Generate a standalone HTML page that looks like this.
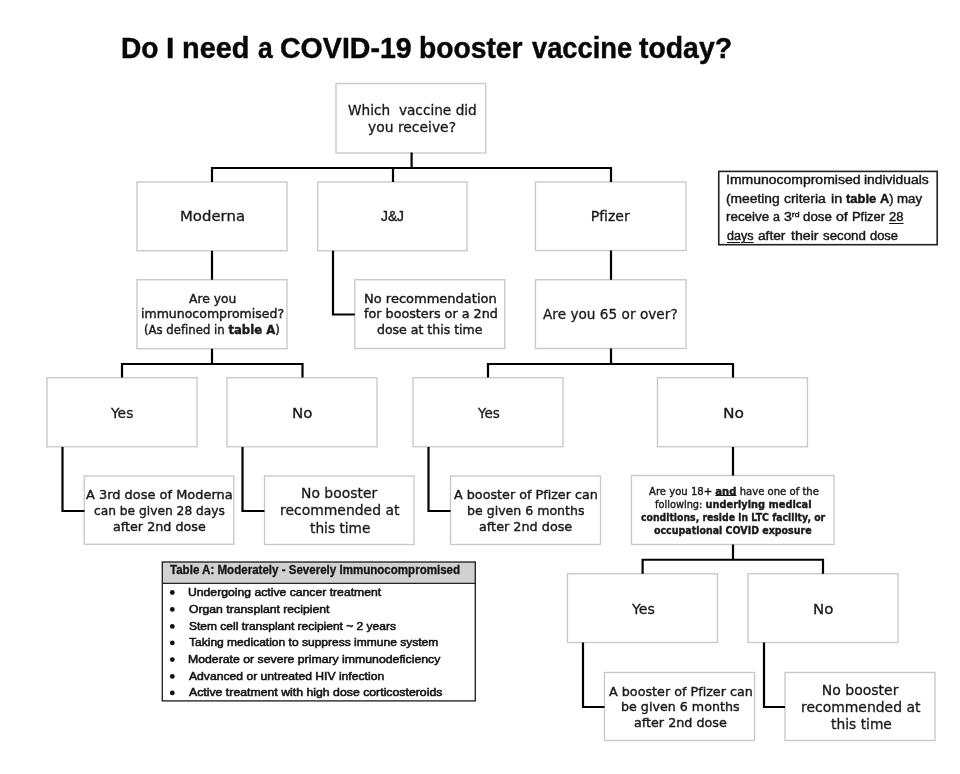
<!DOCTYPE html>
<html lang="en">
<head>
<meta charset="utf-8">
<title>Do I need a COVID-19 booster vaccine today?</title>
<style>
*{box-sizing:border-box}
html,body{margin:0;padding:0;background:#fff}
body{width:960px;height:774px;overflow:hidden;position:relative;will-change:transform}
.ln{position:absolute;white-space:pre;line-height:1.2;font-variant-ligatures:none;transform-origin:0 0;color:#1c1c1c;margin:0;padding:0;display:block}
.ln b{font-weight:700}
.ln u{text-decoration:underline;text-decoration-thickness:1px;text-underline-offset:1px}
.node .ln u{text-underline-offset:0}
.ln sup{font-size:.62em;vertical-align:baseline;position:relative;top:-.5em;line-height:0}
.fv{font-family:"DejaVu Sans","Liberation Sans",sans-serif;-webkit-text-stroke:.3px #1a1a1a;color:#1a1a1a}
.fc{font-family:"Liberation Sans","DejaVu Sans",sans-serif;-webkit-text-stroke:.4px #1c1c1c}
#chart{will-change:transform;position:absolute;left:0;top:0;width:960px;height:774px;background:#fff;overflow:hidden}
#shapes{position:absolute;left:0;top:0;width:960px;height:774px}
.node,.note,.tbl{position:absolute;margin:0;padding:0}
h1,h1 .ln{color:#080808;-webkit-text-stroke:.45px #080808;font-size:29px;font-weight:700}
.grp{margin:0;padding:0;font-size:0;line-height:0}
.grp .ln{line-height:1.2}
.tbl .ln{-webkit-text-stroke:.55px #141414;color:#141414}
.tbl div.ln{-webkit-text-stroke:.3px #141414}
.note .ln{-webkit-text-stroke:.4px #161616;color:#161616}
.note .ln u{text-underline-offset:1.8px}
ul,li{list-style:none;margin:0;padding:0}
</style>
</head>
<body>
<div id="chart">
<svg id="shapes" width="960" height="774" viewBox="0 0 960 774">
<g fill="#fff" stroke="#c8c8c8" stroke-width="1.35">
<rect x="336" y="83.5" width="149.75" height="69.5"/>
<rect x="137" y="182" width="150" height="68.75"/>
<rect x="317.75" y="182" width="149.25" height="68.75"/>
<rect x="535.5" y="182" width="150.5" height="68.5"/>
<rect x="137" y="279.75" width="150" height="69"/>
<rect x="354.75" y="279.75" width="150" height="68.75"/>
<rect x="535.5" y="279.75" width="150.5" height="68.75"/>
<rect x="47" y="377.75" width="150" height="69"/>
<rect x="227" y="377.75" width="150" height="69"/>
<rect x="413" y="377.75" width="150" height="69"/>
<rect x="657.5" y="377.75" width="150" height="69"/>
<rect x="84.25" y="476" width="149.5" height="68.25"/>
<rect x="264.5" y="476" width="149.5" height="68.5"/>
<rect x="450.5" y="476" width="150" height="68.5"/>
<rect x="631.5" y="475.5" width="202.5" height="69"/>
<rect x="567.5" y="573.75" width="150" height="68.75"/>
<rect x="748" y="573.75" width="150" height="68.75"/>
<rect x="604.5" y="672.5" width="150" height="68"/>
<rect x="785" y="672.5" width="150" height="68"/>
</g>
<g fill="none" stroke="#000" stroke-width="2.2" stroke-linejoin="miter" stroke-linecap="butt">
<polyline points="411.6,152.5 411.6,168"/>
<polyline points="212,182 212,168 611,168 611,182"/>
<polyline points="393,168 393,182"/>
<polyline points="212,250.75 212,279.75"/>
<polyline points="333,250.75 333,314.5 354.75,314.5"/>
<polyline points="611,250.5 611,279.75"/>
<polyline points="212,348.75 212,364"/>
<polyline points="122,377.5 122,364 302.5,364 302.5,377.5"/>
<polyline points="611,348.5 611,364"/>
<polyline points="488,377.5 488,364 733,364 733,377.5"/>
<polyline points="62.5,447 62.5,511 84.5,511"/>
<polyline points="242.5,447 242.5,511 264.5,511"/>
<polyline points="428.5,447 428.5,511 450.5,511"/>
<polyline points="733,447 733,475.5"/>
<polyline points="733,544.5 733,559.75"/>
<polyline points="642.6,573.75 642.6,559.75 823,559.75 823,573.75"/>
<polyline points="583,642.5 583,707 604.5,707"/>
<polyline points="764,642.5 764,707 785,707"/>
</g>
<rect x="718.75" y="171.4" width="218.45" height="73.3" fill="#fff" stroke="#222" stroke-width="1.6"/>
<rect x="162.3" y="562" width="313" height="21.4" fill="#d2d0d0"/>
<rect x="162.3" y="562" width="313" height="138.9" fill="none" stroke="#222" stroke-width="1.35"/>
<line x1="162.3" y1="583.4" x2="475.3" y2="583.4" stroke="#222" stroke-width="1.35"/>
<circle cx="172.3" cy="592.5" r="2.4" fill="#111"/>
<circle cx="172.3" cy="609.4" r="2.4" fill="#111"/>
<circle cx="172.3" cy="626.4" r="2.4" fill="#111"/>
<circle cx="172.3" cy="642.9" r="2.4" fill="#111"/>
<circle cx="172.3" cy="659.6" r="2.4" fill="#111"/>
<circle cx="172.3" cy="676.4" r="2.4" fill="#111"/>
<circle cx="172.3" cy="692.9" r="2.4" fill="#111"/>
</svg>
<h1 class="grp"><span class="ln fc" style="left:121.1px;top:31px;font-size:29px;font-weight:700;transform:scaleX(0.9694)">Do</span> <span class="ln fc" style="left:166.14px;top:31px;font-size:29px;font-weight:700;transform:scaleX(1.0286)">I</span> <span class="ln fc" style="left:182.26px;top:31px;font-size:29px;font-weight:700;transform:scaleX(0.9961)">need</span> <span class="ln fc" style="left:257.51px;top:31px;font-size:29px;font-weight:700;transform:scaleX(0.9122)">a</span> <span class="ln fc" style="left:280.02px;top:31px;font-size:29px;font-weight:700;transform:scaleX(0.9848)">COVID-19</span> <span class="ln fc" style="left:419.3px;top:31px;font-size:29px;font-weight:700;transform:scaleX(0.9736)">booster</span> <span class="ln fc" style="left:531.5px;top:31px;font-size:29px;font-weight:700;transform:scaleX(0.9409)">vaccine</span> <span class="ln fc" style="left:639.01px;top:31px;font-size:29px;font-weight:700;transform:scaleX(0.9786)">today?</span></h1>
<div class="node" style="left:336px;top:83.5px;width:149.75px;height:69.5px">
  <span class="ln fv" style="left:11.76px;top:18.5px;font-size:14px;transform:scaleX(0.9770)">Which  vaccine did</span>
  <span class="ln fv" style="left:31.75px;top:35.5px;font-size:14px;transform:scaleX(0.9915)">you receive?</span>
</div>
<div class="node" style="left:137px;top:182px;width:150px;height:68.75px">
  <span class="ln fv" style="left:42.67px;top:26px;font-size:14px;transform:scaleX(1.0638)">Moderna</span>
</div>
<div class="node" style="left:317.75px;top:182px;width:149.25px;height:68.75px">
  <span class="ln fc" style="left:63.65px;top:26px;font-size:14px;transform:scaleX(0.9867)">J&amp;J</span>
</div>
<div class="node" style="left:535.5px;top:182px;width:150.5px;height:68.5px">
  <span class="ln fv" style="left:55.25px;top:26px;font-size:14px;transform:scaleX(1.0000)">Pfizer</span>
</div>
<div class="node" style="left:137px;top:279.75px;width:150px;height:69px">
  <span class="ln fv" style="left:52.3px;top:12.25px;font-size:12px;-webkit-text-stroke-width:.4px;transform:scaleX(1.0254)">Are you</span>
  <span class="ln fv" style="left:3.66px;top:27.25px;font-size:12px;-webkit-text-stroke-width:.4px;transform:scaleX(1.0428)">immunocompromised?</span>
  <span class="ln fv" style="left:7.13px;top:43.25px;font-size:12px;-webkit-text-stroke-width:.4px;transform:scaleX(0.9735)">(As defined in <b>table A</b>)</span>
</div>
<div class="node" style="left:354.75px;top:279.75px;width:150px;height:68.75px">
  <span class="ln fv" style="left:8.97px;top:12.25px;font-size:12px;-webkit-text-stroke-width:.4px;transform:scaleX(1.0838)">No recommendation</span>
  <span class="ln fv" style="left:8.88px;top:27.25px;font-size:12px;-webkit-text-stroke-width:.4px;transform:scaleX(1.0613)">for boosters or a 2nd</span>
  <span class="ln fv" style="left:22.73px;top:43.25px;font-size:12px;-webkit-text-stroke-width:.4px;transform:scaleX(1.0424)">dose at this time</span>
</div>
<div class="node" style="left:535.5px;top:279.75px;width:150.5px;height:68.75px">
  <span class="ln fv" style="left:7.5px;top:26.25px;font-size:14.4px;transform:scaleX(0.9496)">Are you 65 or over?</span>
</div>
<div class="node" style="left:47px;top:377.75px;width:150px;height:69px">
  <span class="ln fv" style="left:64.25px;top:27.25px;font-size:14px;transform:scaleX(0.9888)">Yes</span>
</div>
<div class="node" style="left:227px;top:377.75px;width:150px;height:69px">
  <span class="ln fv" style="left:65.16px;top:27.25px;font-size:14px;transform:scaleX(1.0725)">No</span>
</div>
<div class="node" style="left:413px;top:377.75px;width:150px;height:69px">
  <span class="ln fv" style="left:65.24px;top:27.25px;font-size:14px;transform:scaleX(0.9663)">Yes</span>
</div>
<div class="node" style="left:657.5px;top:377.75px;width:150px;height:69px">
  <span class="ln fv" style="left:65.12px;top:27.25px;font-size:14px;transform:scaleX(1.1014)">No</span>
</div>
<div class="node" style="left:84.25px;top:476px;width:149.5px;height:68.25px">
  <span class="ln fv" style="left:1.75px;top:11px;font-size:12.7px;-webkit-text-stroke-width:.4px;transform:scaleX(1.0200)">A 3rd dose of Moderna</span>
  <span class="ln fv" style="left:9.67px;top:27px;font-size:12.7px;-webkit-text-stroke-width:.4px;transform:scaleX(0.9640)">can be given 28 days</span>
  <span class="ln fv" style="left:28.5px;top:43px;font-size:12.7px;-webkit-text-stroke-width:.4px;transform:scaleX(1.0027)">after 2nd dose</span>
</div>
<div class="node" style="left:264.5px;top:476px;width:149.5px;height:68.5px">
  <span class="ln fv" style="left:36.26px;top:9px;font-size:14px;transform:scaleX(0.9934)">No booster</span>
  <span class="ln fv" style="left:15.26px;top:26px;font-size:14px;transform:scaleX(0.9958)">recommended at</span>
  <span class="ln fv" style="left:45.26px;top:44px;font-size:14px;transform:scaleX(0.9794)">this time</span>
</div>
<div class="node" style="left:450.5px;top:476px;width:150px;height:68.5px">
  <span class="ln fv" style="left:3.5px;top:11px;font-size:12.7px;-webkit-text-stroke-width:.4px;transform:scaleX(1.0035)">A booster of Pfizer can</span>
  <span class="ln fv" style="left:16.51px;top:27px;font-size:12.7px;-webkit-text-stroke-width:.4px;transform:scaleX(0.9893)">be given 6 months</span>
  <span class="ln fv" style="left:28.74px;top:43px;font-size:12.7px;-webkit-text-stroke-width:.4px;transform:scaleX(1.0082)">after 2nd dose</span>
</div>
<div class="node" style="left:631.5px;top:475.5px;width:202.5px;height:69px">
  <span class="ln fv" style="left:17px;top:10.5px;font-size:10.67px;-webkit-text-stroke-width:.4px;transform:scaleX(0.9443)">Are you 18+ <b><u>and</u></b> have one of the</span>
  <span class="ln fv" style="left:23.5px;top:23.5px;font-size:10.67px;-webkit-text-stroke-width:.4px;transform:scaleX(0.9204)">following: <b>underlying medical</b></span>
  <span class="ln fv" style="left:9.28px;top:36.5px;font-size:10.67px;-webkit-text-stroke-width:.4px;transform:scaleX(0.8741)"><b>conditions, reside in LTC facility, or</b></span>
  <span class="ln fv" style="left:22.78px;top:49.5px;font-size:10.67px;-webkit-text-stroke-width:.4px;transform:scaleX(0.8883)"><b>occupational COVID exposure</b></span>
</div>
<div class="node" style="left:567.5px;top:573.75px;width:150px;height:68.75px">
  <span class="ln fv" style="left:64.75px;top:27.25px;font-size:14px;transform:scaleX(1.0112)">Yes</span>
</div>
<div class="node" style="left:748px;top:573.75px;width:150px;height:68.75px">
  <span class="ln fv" style="left:65.16px;top:27.25px;font-size:14px;transform:scaleX(1.0725)">No</span>
</div>
<div class="node" style="left:604.5px;top:672.5px;width:150px;height:68px">
  <span class="ln fv" style="left:4.5px;top:11.5px;font-size:12.7px;-webkit-text-stroke-width:.4px;transform:scaleX(1.0035)">A booster of Pfizer can</span>
  <span class="ln fv" style="left:16.5px;top:26.5px;font-size:12.7px;-webkit-text-stroke-width:.4px;transform:scaleX(0.9979)">be given 6 months</span>
  <span class="ln fv" style="left:29.25px;top:42.5px;font-size:12.7px;-webkit-text-stroke-width:.4px;transform:scaleX(1.0027)">after 2nd dose</span>
</div>
<div class="node" style="left:785px;top:672.5px;width:150px;height:68px">
  <span class="ln fv" style="left:36.75px;top:9.5px;font-size:14px;transform:scaleX(1.0000)">No booster</span>
  <span class="ln fv" style="left:15.76px;top:26.5px;font-size:14px;transform:scaleX(0.9958)">recommended at</span>
  <span class="ln fv" style="left:45.75px;top:43.5px;font-size:14px;transform:scaleX(0.9877)">this time</span>
</div>
<div class="note" style="left:718.75px;top:171.4px;width:218.45px;height:73.3px">
  <p class="grp"><span class="ln fc" style="left:7.01px;top:1.6px;font-size:12.3px;transform:scaleX(1.1373)">Immunocompromised</span> <span class="ln fc" style="left:145.15px;top:1.6px;font-size:12.3px;transform:scaleX(1.1283)">individuals</span></p>
  <p class="grp"><span class="ln fc" style="left:7.59px;top:20.6px;font-size:12.3px;transform:scaleX(1.1230)">(meeting</span> <span class="ln fc" style="left:64.97px;top:20.6px;font-size:12.3px;transform:scaleX(1.1320)">criteria</span> <span class="ln fc" style="left:111.8px;top:20.6px;font-size:12.3px;transform:scaleX(1.1697)">in</span> <span class="ln fc" style="left:127.5px;top:20.6px;font-size:12.3px;transform:scaleX(1.0526)"><b>table</b></span> <span class="ln fc" style="left:161.25px;top:20.6px;font-size:12.3px;transform:scaleX(1.0400)"><b>A</b>)</span> <span class="ln fc" style="left:178.44px;top:20.6px;font-size:12.3px;transform:scaleX(1.0769)">may</span></p>
  <p class="grp"><span class="ln fc" style="left:7.33px;top:38.6px;font-size:12.3px;transform:scaleX(1.0870)">receive</span> <span class="ln fc" style="left:54.14px;top:38.6px;font-size:12.3px;transform:scaleX(1.0168)">a</span> <span class="ln fc" style="left:65.59px;top:38.6px;font-size:12.3px;transform:scaleX(1.1466)">3<sup>rd</sup></span> <span class="ln fc" style="left:84.73px;top:38.6px;font-size:12.3px;transform:scaleX(1.0827)">dose</span> <span class="ln fc" style="left:117.59px;top:38.6px;font-size:12.3px;transform:scaleX(1.1466)">of</span> <span class="ln fc" style="left:133.21px;top:38.6px;font-size:12.3px;transform:scaleX(1.0488)">Pfizer</span> <span class="ln fc" style="left:170.65px;top:38.6px;font-size:12.3px;transform:scaleX(1.0618)"><u>28</u></span></p>
  <p class="grp"><span class="ln fc" style="left:7.93px;top:57.6px;font-size:12.3px;transform:scaleX(1.0208)"><u>days</u></span> <span class="ln fc" style="left:38.97px;top:57.6px;font-size:12.3px;transform:scaleX(1.1134)">after</span> <span class="ln fc" style="left:71.81px;top:57.6px;font-size:12.3px;transform:scaleX(1.1511)">their</span> <span class="ln fc" style="left:104.73px;top:57.6px;font-size:12.3px;transform:scaleX(1.0800)">second</span> <span class="ln fc" style="left:150.99px;top:57.6px;font-size:12.3px;transform:scaleX(1.0481)">dose</span></p>
</div>
<div class="tbl" style="left:162.3px;top:562px;width:313px;height:138.9px">
  <div class="ln fc" style="left:7.3px;top:1px;font-size:12.1px;font-weight:700;transform:scaleX(0.9550)">Table A: Moderately - Severely Immunocompromised</div>
  <ul>
    <li class="ln fc" style="left:25.79px;top:24px;font-size:11.3px;transform:scaleX(1.0794)">Undergoing active cancer treatment</li>
    <li class="ln fc" style="left:26.33px;top:41px;font-size:11.3px;transform:scaleX(1.0798)">Organ transplant recipient</li>
    <li class="ln fc" style="left:26.33px;top:58px;font-size:11.3px;transform:scaleX(1.0612)">Stem cell transplant recipient ~ 2 years</li>
    <li class="ln fc" style="left:26.6px;top:74px;font-size:11.3px;transform:scaleX(1.0644)">Taking medication to suppress immune system</li>
    <li class="ln fc" style="left:25.79px;top:91px;font-size:11.3px;transform:scaleX(1.0861)">Moderate or severe primary immunodeficiency</li>
    <li class="ln fc" style="left:26.87px;top:108px;font-size:11.3px;transform:scaleX(1.0753)">Advanced or untreated HIV infection</li>
    <li class="ln fc" style="left:26.87px;top:124px;font-size:11.3px;transform:scaleX(1.0876)">Active treatment with high dose corticosteroids</li>
  </ul>
</div>
</div>
</body>
</html>
